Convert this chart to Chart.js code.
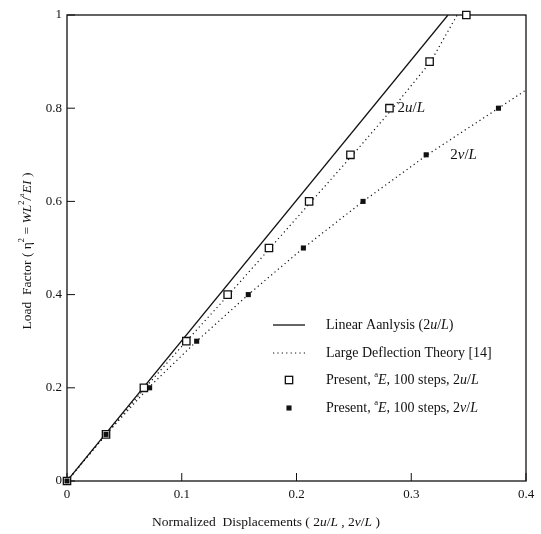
<!DOCTYPE html>
<html>
<head>
<meta charset="utf-8">
<script src="https://cdn.jsdelivr.net/npm/chart.js@4.4.1/dist/chart.umd.min.js"></script>
<style>
  html,body{margin:0;padding:0;background:#fff;}
  #wrap{width:541px;height:534px;}
</style>
</head>
<body>
<div id="wrap"><canvas id="c" width="541" height="534"></canvas></div>
<script>
// ---- data ----
const xTicks = [0, 0.1, 0.2, 0.3, 0.4];
const xTickLabels = ['0', '0.1', '0.2', '0.3', '0.4'];
const yTicks = [0, 0.2, 0.4, 0.6, 0.8, 1];
const yTickLabels = ['0', '0.2', '0.4', '0.6', '0.8', '1'];

const linearX = [0, 0.332];
const linearY = [0, 1.0];

const theoryUX = [0, 0.034, 0.068, 0.104, 0.141, 0.177, 0.213, 0.249, 0.284, 0.317, 0.340];
const theoryUY = [0, 0.1, 0.2, 0.3, 0.4, 0.5, 0.6, 0.7, 0.8, 0.9, 1.0];

const theoryVX = [0, 0.034, 0.071, 0.113, 0.158, 0.206, 0.258, 0.314, 0.376, 0.4];
const theoryVY = [0, 0.1, 0.2, 0.3, 0.4, 0.5, 0.6, 0.7, 0.8, 0.839];

const presentUX = [0, 0.034, 0.067, 0.104, 0.140, 0.176, 0.211, 0.247, 0.281, 0.316, 0.348];
const presentUY = [0, 0.1, 0.2, 0.3, 0.4, 0.5, 0.6, 0.7, 0.8, 0.9, 1.0];

const presentVX = [0, 0.034, 0.072, 0.113, 0.158, 0.206, 0.258, 0.313, 0.376];
const presentVY = [0, 0.1, 0.2, 0.3, 0.4, 0.5, 0.6, 0.7, 0.8];

// ---- texts ----
const xTitle = [
  {t:'Normalized  Displacements ( 2'}, {t:'u', it:1}, {t:'/'}, {t:'L', it:1},
  {t:' , 2'}, {t:'v', it:1}, {t:'/'}, {t:'L', it:1}, {t:' )'}
];
const yTitle = [
  {t:'Load  Factor ( η'}, {t:'2', sup:1}, {t:' = '}, {t:'WL', it:1}, {t:'2', sup:1},
  {t:'/'}, {t:'a', sup:1}, {t:'EI', it:1}, {t:' )'}
];
const legendTexts = [
  [{t:'Linear Aanlysis (2'}, {t:'u', it:1}, {t:'/'}, {t:'L', it:1}, {t:')'}],
  [{t:'Large Deflection Theory [14]'}],
  [{t:'Present, '}, {t:'a', sup:1}, {t:'E', it:1}, {t:', 100 steps, 2'}, {t:'u', it:1}, {t:'/'}, {t:'L', it:1}],
  [{t:'Present, '}, {t:'a', sup:1}, {t:'E', it:1}, {t:', 100 steps, 2'}, {t:'v', it:1}, {t:'/'}, {t:'L', it:1}]
];
const annU = [{t:'2'}, {t:'u', it:1}, {t:'/'}, {t:'L', it:1}];
const annV = [{t:'2'}, {t:'v', it:1}, {t:'/'}, {t:'L', it:1}];

const zip = (xs, ys) => xs.map((x, i) => ({x, y: ys[i]}));
const SERIF = '"Liberation Serif", "DejaVu Serif", serif';
const INK = '#111';

function segFont(s, size) {
  const sz = s.sup ? size * 0.62 : size;
  return (s.it ? 'italic ' : '') + sz + 'px ' + SERIF;
}
function richWidth(ctx, segs, size) {
  let w = 0;
  for (const s of segs) { ctx.font = segFont(s, size); w += ctx.measureText(s.t).width; }
  return w;
}
function drawRich(ctx, segs, x, y, size, align) {
  const w = richWidth(ctx, segs, size);
  let cx = align === 'center' ? x - w / 2 : x;
  ctx.textAlign = 'left';
  ctx.textBaseline = 'middle';
  for (const s of segs) {
    ctx.font = segFont(s, size);
    ctx.fillText(s.t, cx, s.sup ? y - size * 0.36 : y);
    cx += ctx.measureText(s.t).width;
  }
}

const decor = {
  id: 'decor',
  beforeDatasetsDraw(chart) {
    const {ctx, chartArea: a, scales: {x, y}} = chart;
    ctx.save();
    ctx.strokeStyle = INK;
    ctx.lineWidth = 1.3;
    ctx.strokeRect(a.left, a.top, a.right - a.left, a.bottom - a.top);
    ctx.lineWidth = 1;
    // inward ticks
    xTicks.forEach(v => {
      const px = x.getPixelForValue(v);
      ctx.beginPath(); ctx.moveTo(px, a.bottom); ctx.lineTo(px, a.bottom - 8); ctx.stroke();
    });
    yTicks.forEach(v => {
      const py = y.getPixelForValue(v);
      ctx.beginPath(); ctx.moveTo(a.left, py); ctx.lineTo(a.left + 8, py); ctx.stroke();
    });
    ctx.restore();
  },
  afterDatasetsDraw(chart) {
    const {ctx, chartArea: a, scales: {x, y}} = chart;
    const ds = chart.data.datasets;
    ctx.save();
    ctx.fillStyle = INK;
    // axis titles
    drawRich(ctx, xTitle, 266, 522, 13.5, 'center');
    ctx.save();
    ctx.translate(27, 251);
    ctx.rotate(-Math.PI / 2);
    drawRich(ctx, yTitle, 0, 0, 13.5, 'center');
    ctx.restore();
    // annotations
    drawRich(ctx, annU, x.getPixelForValue(0.288), y.getPixelForValue(0.8), 15, 'left');
    drawRich(ctx, annV, x.getPixelForValue(0.334), y.getPixelForValue(0.7), 15, 'left');
    // legend
    const rows = [325, 353, 380, 408];
    const lx0 = 273, lx1 = 305, mx = 289, tx = 326;
    rows.forEach((ry, i) => {
      const d = ds[i === 0 ? 0 : i === 1 ? 1 : i + 1];
      ctx.save();
      if (i < 2) {
        ctx.strokeStyle = d.borderColor;
        ctx.lineWidth = d.borderWidth;
        ctx.setLineDash(d.borderDash || []);
        ctx.beginPath(); ctx.moveTo(lx0, ry); ctx.lineTo(lx1, ry); ctx.stroke();
      } else {
        const s = Math.SQRT1_2 * d.pointRadius;
        if (d.pointBackgroundColor === '#fff') {
          ctx.fillStyle = '#fff'; ctx.strokeStyle = d.pointBorderColor; ctx.lineWidth = d.pointBorderWidth;
          ctx.fillRect(mx - s, ry - s, 2 * s, 2 * s);
          ctx.strokeRect(mx - s, ry - s, 2 * s, 2 * s);
        } else {
          ctx.fillStyle = d.pointBackgroundColor;
          ctx.fillRect(mx - s, ry - s, 2 * s, 2 * s);
        }
      }
      ctx.restore();
      ctx.fillStyle = INK;
      drawRich(ctx, legendTexts[i], tx, ry, 14, 'left');
    });
    ctx.restore();
  }
};

new Chart(document.getElementById('c'), {
  type: 'scatter',
  data: {
    datasets: [
      {label: 'Linear Aanlysis (2u/L)', data: zip(linearX, linearY), showLine: true,
       borderColor: INK, borderWidth: 1.3, pointRadius: 0, order: 5},
      {label: 'Large Deflection Theory [14] (2u/L)', data: zip(theoryUX, theoryUY), showLine: true,
       borderColor: INK, borderWidth: 1.2, borderDash: [1.2, 3.2], pointRadius: 0, order: 4},
      {label: 'Large Deflection Theory [14] (2v/L)', data: zip(theoryVX, theoryVY), showLine: true,
       borderColor: INK, borderWidth: 1.2, borderDash: [1.2, 3.2], pointRadius: 0, order: 3},
      {label: 'Present, aE, 100 steps, 2u/L', data: zip(presentUX, presentUY), showLine: false,
       pointStyle: 'rect', pointRadius: 5.2, pointBackgroundColor: '#fff', pointBorderColor: INK,
       pointBorderWidth: 1.3, clip: false, order: 2},
      {label: 'Present, aE, 100 steps, 2v/L', data: zip(presentVX, presentVY), showLine: false,
       pointStyle: 'rect', pointRadius: 3.6, pointBackgroundColor: INK, pointBorderColor: INK,
       pointBorderWidth: 0, clip: false, order: 1}
    ]
  },
  options: {
    responsive: false,
    animation: false,
    devicePixelRatio: 1,
    layout: {padding: {left: 0, top: 15, right: 15, bottom: 0}},
    plugins: {legend: {display: false}, tooltip: {enabled: false}},
    scales: {
      x: {
        type: 'linear', min: 0, max: 0.4,
        afterFit: s => { s.height = 53; },
        afterBuildTicks: s => { s.ticks = xTicks.map(v => ({value: v})); },
        grid: {display: false, drawTicks: false},
        border: {display: false},
        ticks: {padding: 6, color: INK, font: {family: SERIF, size: 13},
                maxRotation: 0, autoSkip: false,
                callback: (v) => xTickLabels[xTicks.indexOf(v)] ?? ''}
      },
      y: {
        type: 'linear', min: 0, max: 1,
        afterFit: s => { s.width = 67; },
        afterBuildTicks: s => { s.ticks = yTicks.map(v => ({value: v})); },
        grid: {display: false, drawTicks: false},
        border: {display: false},
        ticks: {padding: 5, color: INK, font: {family: SERIF, size: 13}, autoSkip: false,
                callback: (v) => yTickLabels[yTicks.indexOf(v)] ?? ''}
      }
    }
  },
  plugins: [decor]
});
</script>
</body>
</html>
